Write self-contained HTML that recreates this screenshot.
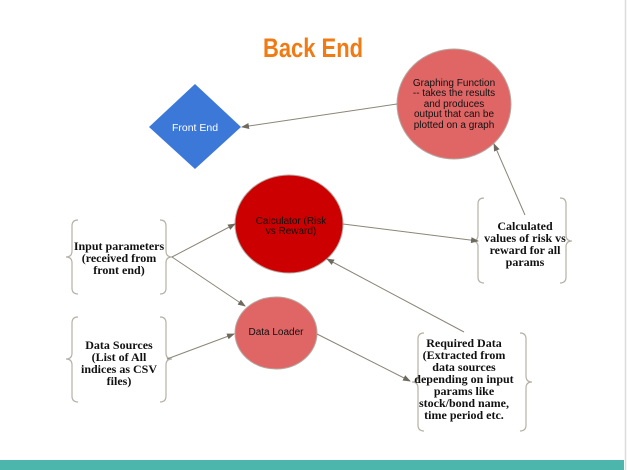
<!DOCTYPE html>
<html><head><style>
html,body{margin:0;padding:0;background:#fff;}
svg{display:block;}
.s{font-family:"Liberation Serif",serif;font-weight:bold;font-size:12px;fill:#111;text-anchor:middle;}
.a{font-family:"Liberation Sans",sans-serif;font-size:10px;fill:#111;text-anchor:middle;}
.ln{stroke:#8a8577;stroke-width:1;fill:none;}
.br{stroke:#b5b0a5;stroke-width:1.2;fill:none;}
</style></head><body>
<svg width="627" height="470" viewBox="0 0 627 470" xmlns="http://www.w3.org/2000/svg">
<defs><marker id="m" markerWidth="8" markerHeight="6" refX="7" refY="3" orient="auto" markerUnits="userSpaceOnUse"><path d="M0,0 L8,3 L0,6 z" fill="#6f6a5e"/></marker></defs>
<rect x="0" y="0" width="627" height="470" fill="#fff"/>
<rect x="0" y="460" width="624" height="10" fill="#4db6ac"/>
<line x1="625.5" y1="0" x2="625.5" y2="470" stroke="#ddd" stroke-width="1.5"/>
<text x="313" y="57" font-family="Liberation Sans Narrow,Liberation Sans,sans-serif" font-weight="bold" font-size="27" fill="#f07a13" text-anchor="middle" textLength="100" lengthAdjust="spacingAndGlyphs">Back End</text>

<polygon points="195,84 241,127 195,169 149,127" fill="#3c78d8"/>
<text x="195" y="131" class="a" fill="#fff" style="fill:#fff;font-size:10.5px">Front End</text>

<ellipse cx="454" cy="104" rx="57" ry="55" fill="#e06666" stroke="#b5a8a0"/>
<text class="a" x="454" y="86">Graphing Function</text>
<text class="a" x="454" y="96">-- takes the results</text>
<text class="a" x="454" y="107">and produces</text>
<text class="a" x="454" y="117">output that can be</text>
<text class="a" x="454" y="128">plotted on a graph</text>

<ellipse cx="289" cy="224" rx="54" ry="49" fill="#cc0000" stroke="#b5a8a0"/>
<text class="a" x="291" y="224">Calculator (Risk</text>
<text class="a" x="291" y="234">vs Reward)</text>

<ellipse cx="276" cy="333" rx="41" ry="36" fill="#e06666" stroke="#b5a8a0"/>
<text class="a" x="276" y="335">Data Loader</text>

<!-- braces -->
<g class="br">
<path d="M78,220 q-6,0 -6,6 v25 q0,6 -6,6 q6,0 6,6 v25 q0,6 6,6"/>
<path d="M160,220 q6,0 6,6 v25 q0,6 6,6 q-6,0 -6,6 v25 q0,6 -6,6"/>
<path d="M78,317 q-6,0 -6,6 v30 q0,6 -6,6 q6,0 6,6 v31 q0,6 6,6"/>
<path d="M160,317 q6,0 6,6 v30 q0,6 6,6 q-6,0 -6,6 v31 q0,6 -6,6"/>
<path d="M484,198 q-6,0 -6,6 v31 q0,6 -6,6 q6,0 6,6 v30 q0,6 6,6"/>
<path d="M560,198 q6,0 6,6 v31 q0,6 6,6 q-6,0 -6,6 v30 q0,6 -6,6"/>
<path d="M424,333 q-6,0 -6,6 v37 q0,6 -6,6 q6,0 6,6 v37 q0,6 6,6"/>
<path d="M520,333 q6,0 6,6 v37 q0,6 6,6 q-6,0 -6,6 v37 q0,6 -6,6"/>
</g>
<text class="s" x="119" y="250">Input parameters</text>
<text class="s" x="119" y="262">(received from</text>
<text class="s" x="119" y="274">front end)</text>
<text class="s" x="119" y="349">Data Sources</text>
<text class="s" x="119" y="361">(List of All</text>
<text class="s" x="119" y="373">indices as CSV</text>
<text class="s" x="119" y="385">files)</text>
<text class="s" x="525" y="230">Calculated</text>
<text class="s" x="525" y="242">values of risk vs</text>
<text class="s" x="525" y="254">reward for all</text>
<text class="s" x="525" y="266">params</text>
<text class="s" x="464" y="347">Required Data</text>
<text class="s" x="464" y="359">(Extracted from</text>
<text class="s" x="464" y="371">data sources</text>
<text class="s" x="464" y="383">depending on input</text>
<text class="s" x="464" y="395">params like</text>
<text class="s" x="464" y="407">stock/bond name,</text>
<text class="s" x="464" y="419">time period etc.</text>

<!-- arrows -->
<g class="ln" marker-end="url(#m)">
<line x1="397" y1="104" x2="242" y2="127"/>
<line x1="525" y1="215" x2="494" y2="144"/>
<line x1="343" y1="224" x2="478" y2="241"/>
<line x1="172" y1="257" x2="235" y2="224"/>
<line x1="172" y1="257" x2="245" y2="306"/>
<line x1="167" y1="359" x2="234" y2="334"/>
<line x1="317" y1="334" x2="410" y2="381"/>
<line x1="464" y1="332" x2="327" y2="259"/>
</g>
</svg>
</body></html>
